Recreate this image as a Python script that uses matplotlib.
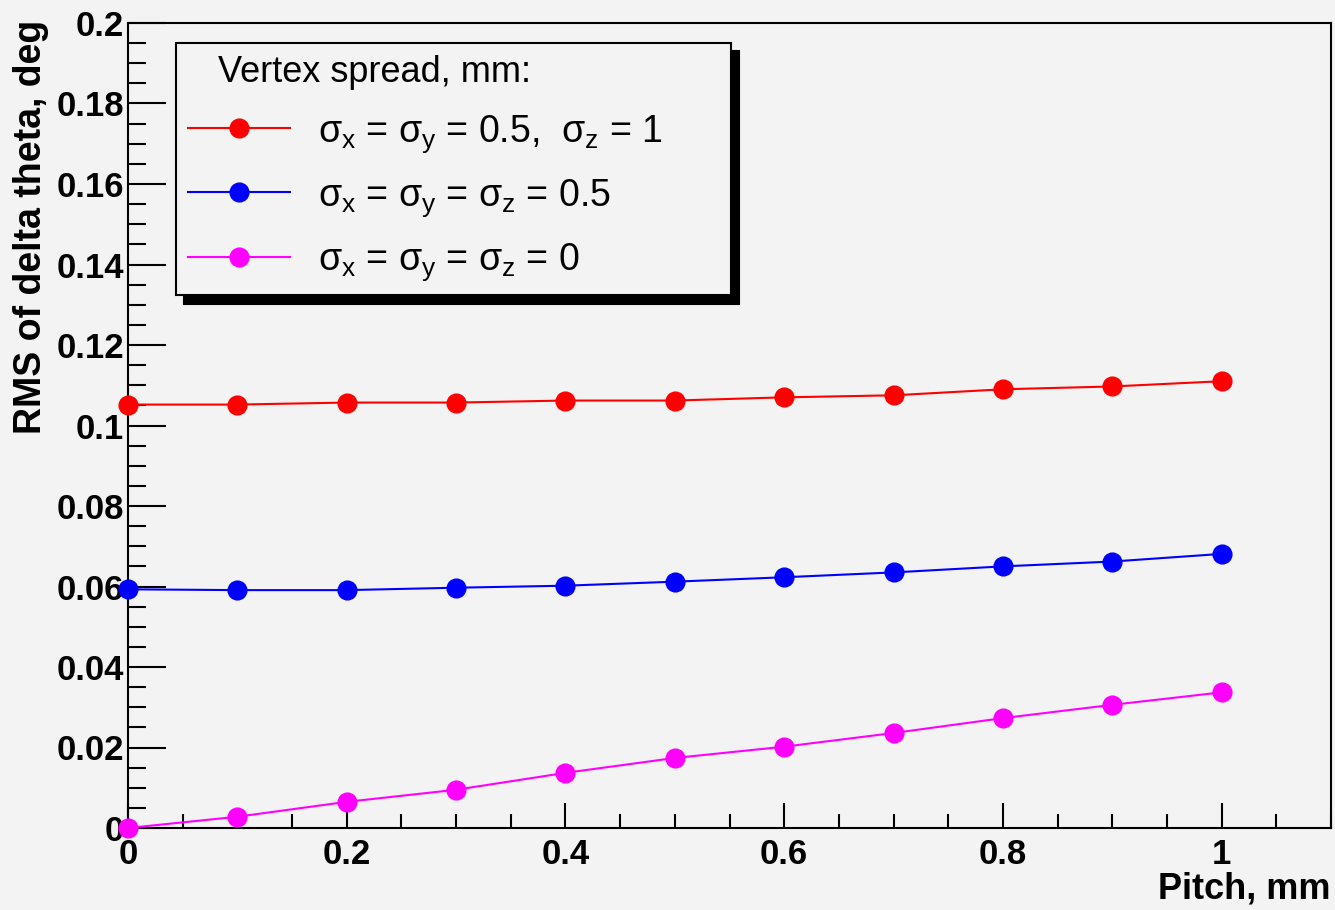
import matplotlib
matplotlib.use('Agg')
from matplotlib import pyplot as plt
from matplotlib.ticker import MultipleLocator, FormatStrFormatter

# pitch values, mm
pitch = [0.0, 0.1, 0.2, 0.3, 0.4, 0.5, 0.6, 0.7, 0.8, 0.9, 1.0]

# RMS of delta theta, deg, for three vertex spreads
rms_sxy05_sz1 = [0.1052, 0.1052, 0.1057, 0.1057, 0.1062, 0.1062, 0.1070, 0.1075, 0.1090, 0.1097, 0.1110]
rms_s05 = [0.0593, 0.0591, 0.0591, 0.0597, 0.0602, 0.0612, 0.0623, 0.0635, 0.0650, 0.0662, 0.0681]
rms_s0 = [0.0, 0.0028, 0.0065, 0.0095, 0.0137, 0.0174, 0.0202, 0.0236, 0.0273, 0.0306, 0.0337]

labels = [r'$\sigma_{\rm x}$ = $\sigma_{\rm y}$ = 0.5,  $\sigma_{\rm z}$ = 1',
          r'$\sigma_{\rm x}$ = $\sigma_{\rm y}$ = $\sigma_{\rm z}$ = 0.5',
          r'$\sigma_{\rm x}$ = $\sigma_{\rm y}$ = $\sigma_{\rm z}$ = 0']
colors = ['#ff0000', '#0000ff', '#ff00ff']

plt.rcParams['font.family'] = ['Liberation Sans', 'DejaVu Sans']
plt.rcParams['mathtext.fontset'] = 'custom'
plt.rcParams['mathtext.rm'] = 'Liberation Sans'
plt.rcParams['mathtext.it'] = 'Liberation Sans'
plt.rcParams['mathtext.bf'] = 'Liberation Sans:bold'

bg = '#f3f3f3'
fig = plt.figure(figsize=(13.35, 9.1), dpi=100, facecolor=bg)
ax = fig.add_axes([128 / 1335, 1 - 828 / 910, 1203 / 1335, 805 / 910])
ax.set_facecolor(bg)

for ys, c, lab in zip([rms_sxy05_sz1, rms_s05, rms_s0], colors, labels):
    ax.plot(pitch, ys, color=c, lw=1.5, marker='o', markersize=13.5, label=lab,
            clip_on=False, zorder=3)

ax.set_xlim(0, 1.1)
ax.set_ylim(0, 0.2)

ax.xaxis.set_major_locator(MultipleLocator(0.2))
ax.xaxis.set_minor_locator(MultipleLocator(0.05))
ax.yaxis.set_major_locator(MultipleLocator(0.02))
ax.yaxis.set_minor_locator(MultipleLocator(0.005))
ax.xaxis.set_major_formatter(FormatStrFormatter('%g'))
ax.yaxis.set_major_formatter(FormatStrFormatter('%g'))

ax.tick_params(axis='both', which='both', direction='in', width=1.5, color='black',
               top=False, right=False)
ax.tick_params(axis='y', which='major', length=27, pad=3, labelsize=25)
ax.tick_params(axis='y', which='minor', length=13)
ax.tick_params(axis='x', which='major', length=18, pad=7, labelsize=25)
ax.tick_params(axis='x', which='minor', length=10)
for t in ax.get_xticklabels() + ax.get_yticklabels():
    t.set_fontweight('bold')

for s in ax.spines.values():
    s.set_linewidth(1.5)

fig.text(31 / 1335, 1 - 20 / 910, 'RMS of delta theta, deg', rotation=90,
         ha='center', va='top', fontsize=27, fontweight='bold')
fig.text(1331 / 1335, 1 - 907 / 910, 'Pitch, mm', ha='right', va='bottom',
         fontsize=26, fontweight='bold')

leg = ax.legend(loc='upper left', bbox_to_anchor=(0.04, 0.975, 0.461, 0.0),
                mode='expand', borderaxespad=0,
                title='   Vertex spread, mm:', title_fontsize=26, fontsize=27,
                alignment='left', fancybox=False, edgecolor='black', facecolor=bg,
                framealpha=1, handlelength=2.7, handletextpad=0.75, labelspacing=0.6,
                borderpad=0.33,
                shadow={'ox': 6, 'oy': -6, 'color': 'black', 'alpha': 1})
leg.get_frame().set_linewidth(1.5)

fig.savefig('out.png', dpi=100, facecolor=bg)
